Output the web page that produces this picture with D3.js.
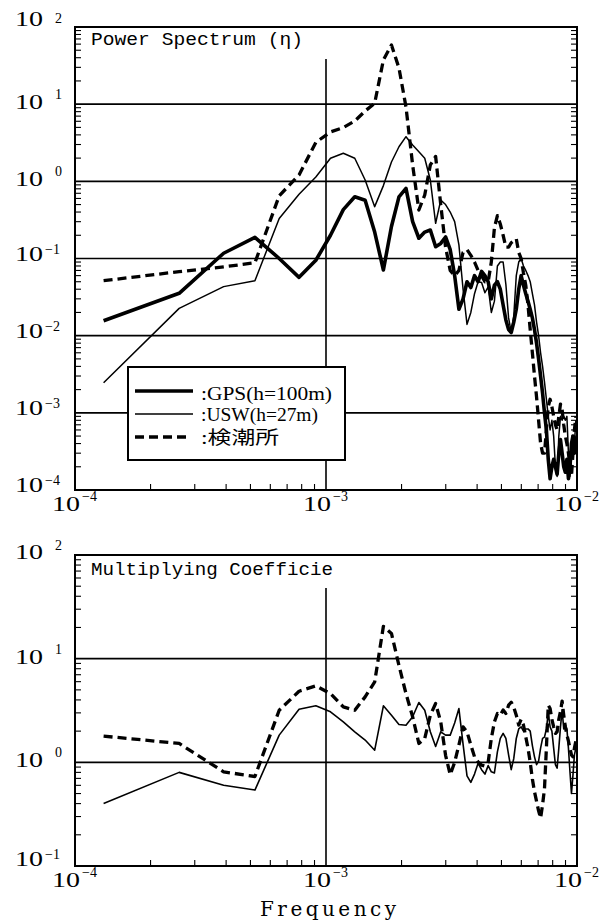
<!DOCTYPE html>
<html>
<head>
<meta charset="utf-8">
<script src="https://cdn.jsdelivr.net/npm/d3@7"></script>
<style>
html, body { margin: 0; padding: 0; background: #fff; }
svg { display: block; }
</style>
</head>
<body>
<svg id="chart" width="610" height="923"></svg>
<script>
// Frequency bins (mHz), spacing 1/7680 Hz
const freqMHz = [
  0.130, 0.260, 0.391, 0.521, 0.651, 0.781, 0.911, 1.042, 1.172, 1.302,
  1.432, 1.563, 1.693, 1.823, 1.953, 2.083, 2.214, 2.344, 2.474, 2.604,
  2.734, 2.865, 2.995, 3.125, 3.255, 3.385, 3.516, 3.646, 3.776, 3.906,
  4.036, 4.167, 4.297, 4.427, 4.557, 4.688, 4.818, 4.948, 5.078, 5.208,
  5.339, 5.469, 5.599, 5.729, 5.859, 5.990, 6.120, 6.250, 6.380, 6.510,
  6.641, 6.771, 6.901, 7.031, 7.161, 7.292, 7.422, 7.552, 7.682, 7.813,
  7.943, 8.073, 8.203, 8.333, 8.464, 8.594, 8.724, 8.854, 8.984, 9.115,
  9.245, 9.375, 9.505, 9.635, 9.766, 9.896
];

// Power spectrum of water level
const gpsSpec = [
  0.0156, 0.0354, 0.117, 0.188, 0.100, 0.057, 0.095, 0.20, 0.43, 0.63,
  0.57, 0.22, 0.071, 0.26, 0.63, 0.81, 0.30, 0.183, 0.22, 0.234,
  0.142, 0.157, 0.19, 0.13, 0.060, 0.022, 0.030, 0.050, 0.042, 0.060,
  0.050, 0.068, 0.060, 0.050, 0.030, 0.045, 0.050, 0.040, 0.025, 0.016,
  0.012, 0.011, 0.015, 0.022, 0.040, 0.060, 0.045, 0.035, 0.028, 0.022,
  0.017, 0.012, 0.008, 0.005, 0.003, 0.0018, 0.0010, 0.0006, 0.00025, 0.00014,
  0.0002, 0.00025, 0.0002, 0.00016, 0.0003, 0.00045, 0.0003, 0.0002, 0.00017, 0.00025,
  0.00014, 0.0002, 0.0004, 0.0005, 0.0003, 0.0005
];
const uswSpec = [
  0.00245, 0.0226, 0.0432, 0.0516, 0.33, 0.68, 1.14, 1.99, 2.31, 1.99,
  1.04, 0.47, 0.88, 1.78, 2.81, 3.79, 2.96, 2.42, 1.99, 1.04,
  0.286, 0.57, 0.50, 0.40, 0.30, 0.15, 0.040, 0.014, 0.020, 0.035,
  0.050, 0.049, 0.036, 0.043, 0.020, 0.028, 0.080, 0.090, 0.090, 0.046,
  0.017, 0.011, 0.018, 0.060, 0.090, 0.10, 0.080, 0.070, 0.060, 0.050,
  0.035, 0.025, 0.015, 0.010, 0.006, 0.004, 0.0025, 0.0015, 0.0009, 0.0006,
  0.0008, 0.0005, 0.0002, 0.00015, 0.0005, 0.0009, 0.0008, 0.0009, 0.0008, 0.0009,
  0.0003, 0.00015, 0.00025, 0.0004, 0.0004, 0.0008
];
const tideSpec = [
  0.0516, 0.0675, 0.078, 0.088, 0.65, 1.21, 3.2, 4.36, 4.98, 6.05,
  8.15, 10.3, 37.4, 58.4, 29.4, 9.2, 1.63, 0.425, 0.665, 1.63,
  2.1, 0.50, 0.14, 0.07, 0.06, 0.07, 0.12, 0.13, 0.11, 0.09,
  0.07, 0.06, 0.05, 0.05, 0.09, 0.25, 0.36, 0.28, 0.20, 0.14,
  0.14, 0.16, 0.17, 0.18, 0.12, 0.10, 0.065, 0.045, 0.025, 0.012,
  0.006, 0.003, 0.0016, 0.0008, 0.0004, 0.0003, 0.0003, 0.0006, 0.0012, 0.0015,
  0.0012, 0.0009, 0.0007, 0.0006, 0.0009, 0.0013, 0.0011, 0.0007, 0.0005, 0.0004,
  0.0003, 0.0002, 0.00015, 0.0003, 0.0006, 0.0009
];

// Multiplying coefficient relative to GPS
const uswCoef = [
  0.40, 0.80, 0.60, 0.54, 1.83, 3.25, 3.51, 3.07, 2.46, 1.97,
  1.64, 1.31, 3.51, 2.85, 2.32, 2.28, 2.75, 3.78, 3.18, 1.97,
  1.42, 1.97, 1.83, 1.83, 2.4, 3.3, 1.5, 0.74, 0.64, 0.77,
  0.98, 0.85, 0.77, 0.93, 0.81, 0.79, 1.26, 1.70, 1.90, 1.70,
  1.18, 0.85, 1.09, 1.70, 2.1, 2.2, 2.0, 2.1, 2.1, 2.0,
  1.45, 1.13, 0.95, 1.03, 1.37, 1.70, 1.75, 2.1, 3.0, 2.2,
  2.0, 1.37, 0.95, 0.88, 1.37, 2.2, 3.2, 2.1, 2.3, 2.1,
  1.37, 0.81, 0.50, 0.75, 1.18, 1.37
];
const tideCoef = [
  1.79, 1.52, 0.81, 0.73, 3.18, 4.85, 5.46, 4.6, 3.43, 3.18,
  4.28, 5.97, 20.5, 17.5, 8.6, 4.6, 2.75, 1.52, 1.70, 2.85,
  3.69, 2.46, 1.17, 0.76, 1.0, 1.47, 2.2, 1.97, 1.47, 1.13,
  1.01, 0.94, 0.92, 1.0, 1.70, 2.46, 2.96, 2.85, 3.2, 2.96,
  3.56, 3.8, 3.4, 2.85, 2.29, 2.6, 2.29, 1.76, 1.37, 1.0,
  0.69, 0.52, 0.42, 0.34, 0.29, 0.39, 0.56, 1.37, 3.56, 3.3,
  2.6, 2.2, 1.9, 1.97, 2.6, 3.1, 3.9, 2.85, 2.2, 1.85,
  1.6, 1.37, 1.18, 1.13, 1.37, 1.6
];

const xTickExps = [-4, -3, -2];
const specYExps = [2, 1, 0, -1, -2, -3, -4];
const coefYExps = [2, 1, 0, -1];
const legendLabels = [":GPS(h=100m)", ":USW(h=27m)", ":検潮所"];
const legendWidths = [131, 117, 78];

const svg = d3.select("#chart");
const X0 = 75, X1 = 577;
const x = d3.scaleLog().domain([1e-4, 1e-2]).range([X0, X1]);

const serif = "'Liberation Serif', 'DejaVu Serif', serif";
const mono = "'Liberation Mono', 'DejaVu Sans Mono', monospace";

const styles = {
  gps:  { width: 3.6, dash: null },
  usw:  { width: 1.5, dash: null },
  tide: { width: 3.3, dash: "9,5" }
};

// "10" with a raised exponent
function powerLabel(g, cx, base, exp, mode, raise) {
  let tenX, expX;
  if (mode === "y") { tenX = 15; expX = exp >= 0 ? 55 : 45; }
  else { tenX = cx - 23; expX = cx + 7; }
  g.append("text")
    .attr("x", tenX).attr("y", base)
    .attr("font-family", serif).attr("font-size", 20)
    .attr("textLength", 28).attr("lengthAdjust", "spacingAndGlyphs")
    .text("10");
  g.append("text")
    .attr("x", expX).attr("y", base - raise)
    .attr("font-family", serif).attr("font-size", 14)
    .text(exp < 0 ? "\u2212" + (-exp) : String(exp));
}

function panel(cfg) {
  const g = svg.append("g");
  const y = d3.scaleLog().domain(cfg.yDomain).range([cfg.bottom, cfg.top]);
  const id = "clip" + cfg.top;
  svg.append("clipPath").attr("id", id)
    .append("rect").attr("x", X0).attr("y", cfg.top)
    .attr("width", X1 - X0).attr("height", cfg.bottom - cfg.top);

  // horizontal decade grid
  const [lo, hi] = cfg.yDomain.map(v => Math.round(Math.log10(v)));
  for (let e = lo + 1; e < hi; e++) {
    g.append("line").attr("x1", X0).attr("x2", X1)
      .attr("y1", y(Math.pow(10, e))).attr("y2", y(Math.pow(10, e)))
      .attr("stroke", "#000").attr("stroke-width", 1.6);
  }
  // vertical line at 1e-3
  g.append("line").attr("x1", x(1e-3)).attr("x2", x(1e-3))
    .attr("y1", cfg.vTop).attr("y2", cfg.bottom)
    .attr("stroke", "#000").attr("stroke-width", 1.6);

  // minor ticks on left/right axes
  for (let e = lo; e < hi; e++) {
    for (let m = 2; m <= 9; m++) {
      const yy = y(m * Math.pow(10, e));
      g.append("line").attr("x1", X0).attr("x2", X0 + 6).attr("y1", yy).attr("y2", yy)
        .attr("stroke", "#000").attr("stroke-width", 1.1);
      g.append("line").attr("x1", X1 - 6).attr("x2", X1).attr("y1", yy).attr("y2", yy)
        .attr("stroke", "#000").attr("stroke-width", 1.1);
    }
  }
  // minor ticks on bottom axis
  for (const e of [-4, -3]) {
    for (let m = 2; m <= 9; m++) {
      const xx = x(m * Math.pow(10, e));
      g.append("line").attr("x1", xx).attr("x2", xx)
        .attr("y1", cfg.bottom).attr("y2", cfg.bottom - 6)
        .attr("stroke", "#000").attr("stroke-width", 1.1);
    }
  }

  // series
  const line = d3.line()
    .x((d, i) => x(freqMHz[i] * 1e-3))
    .y(d => y(d));
  const sg = g.append("g").attr("clip-path", `url(#${id})`);
  cfg.series.forEach(s => {
    sg.append("path").datum(s.values)
      .attr("d", line)
      .attr("fill", "none").attr("stroke", "#000")
      .attr("stroke-width", s.style.width)
      .attr("stroke-linejoin", "round")
      .attr("stroke-dasharray", s.style.dash);
  });

  // frame
  g.append("rect").attr("x", X0).attr("y", cfg.top)
    .attr("width", X1 - X0).attr("height", cfg.bottom - cfg.top)
    .attr("fill", "none").attr("stroke", "#000").attr("stroke-width", 2);

  // y labels
  cfg.yExps.forEach(e => {
    const yy = y(Math.pow(10, e));
    const off = cfg.yOffset(e);
    powerLabel(g, 0, yy + off.base, e, "y", off.raise);
  });
  // x labels
  xTickExps.forEach(e => {
    powerLabel(g, x(Math.pow(10, e)), cfg.xBase, e, "x", 10);
  });

  // title
  g.append("text").attr("x", 91).attr("y", cfg.titleY)
    .attr("font-family", mono).attr("font-size", 18)
    .attr("textLength", cfg.titleLen).attr("lengthAdjust", "spacingAndGlyphs")
    .text(cfg.title);
  return { g, y };
}

// Power spectrum panel
const specPanel = panel({
  top: 27, bottom: 490, vTop: 59,
  yDomain: [1e-4, 1e2],
  yExps: specYExps,
  yOffset: e => e === 2 ? { base: -1, raise: 3 }
              : e >= 0 ? { base: 5, raise: 10 }
              : { base: 2, raise: 7 },
  xBase: 511,
  title: "Power Spectrum (\u03b7)", titleY: 45, titleLen: 212,
  series: [
    { values: gpsSpec, style: styles.gps },
    { values: uswSpec, style: styles.usw },
    { values: tideSpec, style: styles.tide }
  ]
});

// legend
const lg = specPanel.g.append("g");
lg.append("rect").attr("x", 128).attr("y", 367).attr("width", 217).attr("height", 93)
  .attr("fill", "#fff").attr("stroke", "#000").attr("stroke-width", 2);
const legendStyles = [styles.gps, styles.usw, styles.tide];
const legendRows = [391, 414, 437];
const legendBase = [400, 421, 444];
legendLabels.forEach((lab, i) => {
  lg.append("line").attr("x1", 135).attr("x2", i === 2 ? 186 : 193)
    .attr("y1", legendRows[i]).attr("y2", legendRows[i])
    .attr("stroke", "#000").attr("stroke-width", legendStyles[i].width)
    .attr("stroke-dasharray", legendStyles[i].dash);
  lg.append("text").attr("x", 201).attr("y", legendBase[i])
    .attr("font-family", "'Liberation Serif', 'Noto Sans CJK JP', serif")
    .attr("font-size", 18)
    .attr("textLength", legendWidths[i]).attr("lengthAdjust", "spacingAndGlyphs")
    .text(lab);
});

// Multiplying coefficient panel
const coefPanel = panel({
  top: 555, bottom: 866, vTop: 588,
  yDomain: [1e-1, 1e2],
  yExps: coefYExps,
  yOffset: e => e === 2 ? { base: 4, raise: 9 }
              : e >= 0 ? { base: 5, raise: 10 }
              : { base: 0, raise: 7 },
  xBase: 887,
  title: "Multiplying Coefficie", titleY: 575, titleLen: 242,
  series: [
    { values: uswCoef, style: { width: 1.6, dash: null } },
    { values: tideCoef, style: styles.tide }
  ]
});

svg.append("text").attr("x", 260).attr("y", 916)
  .attr("font-family", "'DejaVu Serif', serif").attr("font-size", 20)
  .attr("textLength", 136).attr("lengthAdjust", "spacing")
  .text("Frequency");
</script>
</body>
</html>
